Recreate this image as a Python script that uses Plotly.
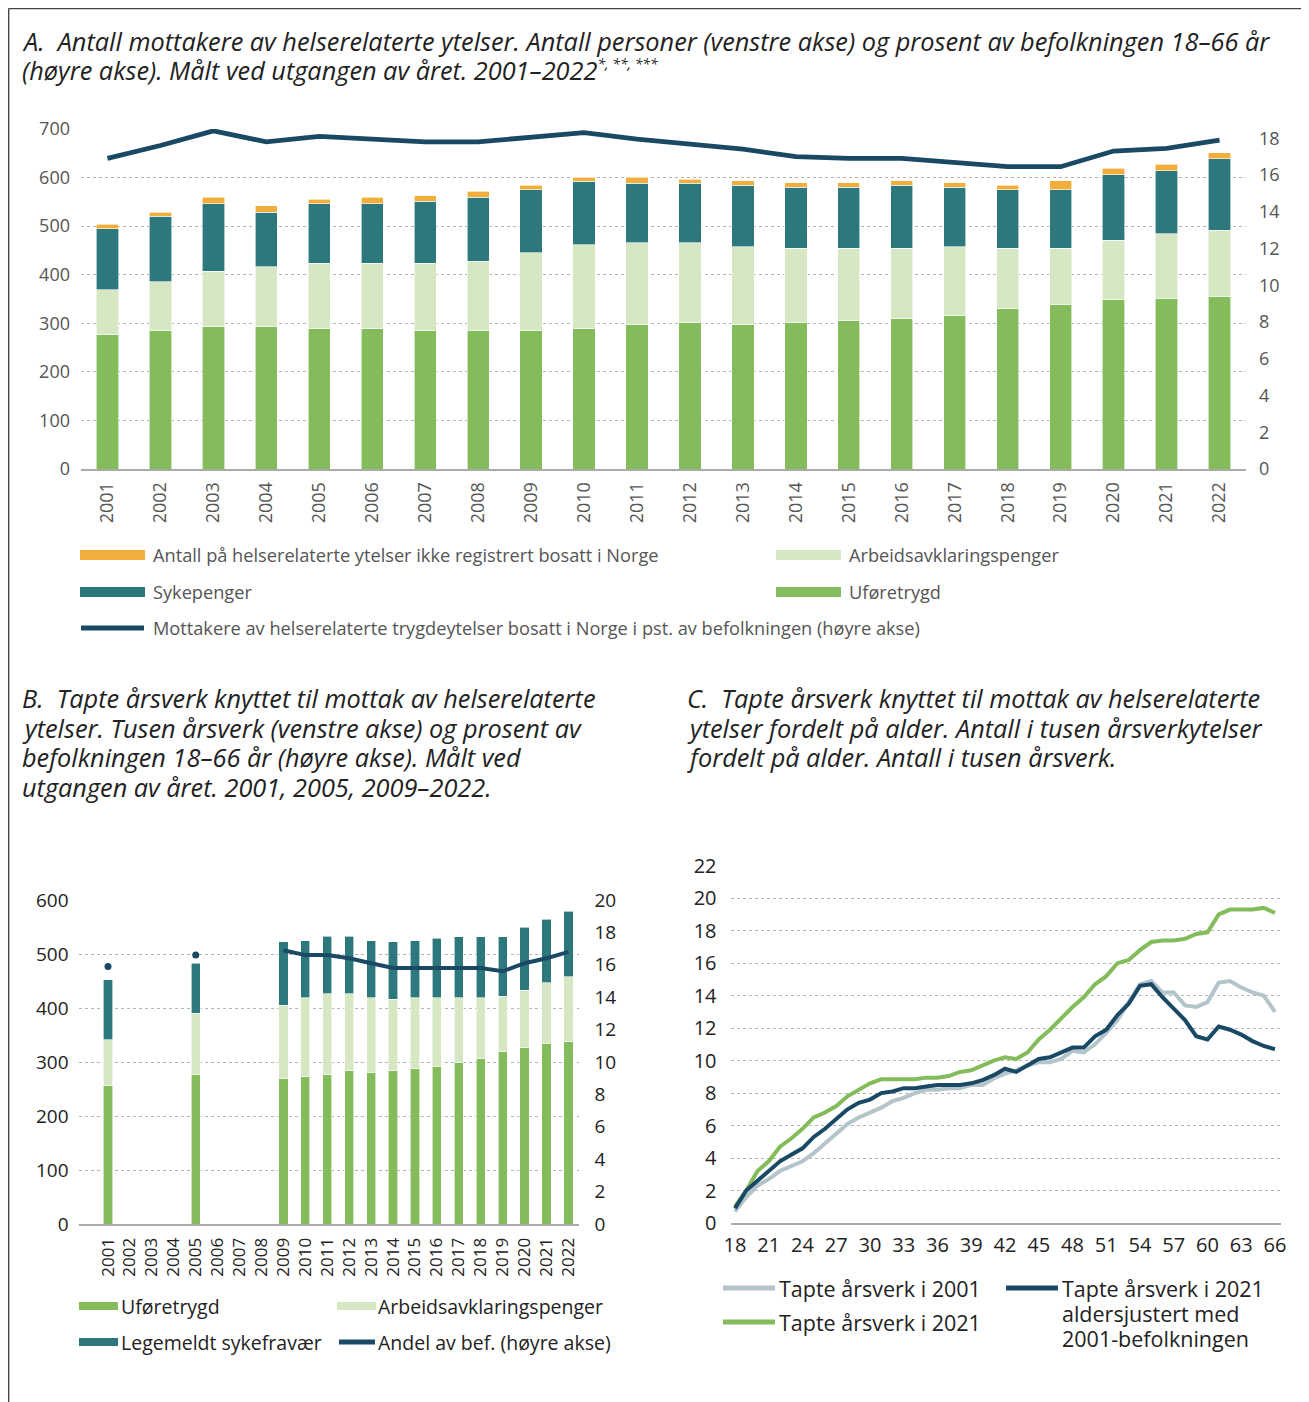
import plotly.graph_objects as go

# The page body adds an 8px margin; the figure is sized/positioned so that the
# screenshot coordinates match the reference.
OFF = 8
W, H = 1309 - OFF, 1402 - OFF

# ---------------- Panel A data ----------------
years_a = [str(y) for y in range(2001, 2023)]
ufore_a = [276, 285, 293, 293, 289, 289, 285, 285, 285, 289, 297, 301, 297, 301, 305, 309, 317, 330, 339, 348, 352, 356]
aap_a = [93, 101, 114, 123, 135, 135, 139, 143, 160, 173, 169, 165, 161, 153, 149, 145, 141, 124, 115, 123, 132, 136]
syk_a = [126, 134, 139, 113, 122, 122, 127, 131, 130, 130, 122, 122, 126, 126, 126, 130, 122, 121, 121, 135, 130, 147]
ikke_bosatt_a = [9, 9, 13, 13, 9, 13, 12, 13, 9, 9, 13, 9, 9, 9, 9, 9, 9, 9, 18, 13, 13, 12]
andel_a = [16.9, 17.6, 18.4, 17.8, 18.1, 17.95, 17.8, 17.8, 18.05, 18.3, 17.95, 17.7, 17.4, 17.0, 16.9, 16.9, 16.7, 16.45, 16.45, 17.3, 17.45, 17.9]

# ---------------- Panel B data ----------------
years_b = [str(y) for y in range(2001, 2023)]
ufore_b = [256, None, None, None, 277, None, None, None, 270, 273, 277, 284, 281, 284, 288, 291, 299, 306, 319, 327, 335, 338]
aap_b = [85, None, None, None, 113, None, None, None, 135, 146, 149, 142, 138, 132, 131, 128, 120, 113, 103, 106, 112, 120]
syk_b = [111, None, None, None, 93, None, None, None, 118, 106, 107, 107, 106, 107, 106, 110, 113, 113, 110, 117, 117, 121]
andel_b_line_years = [str(y) for y in range(2009, 2023)]
andel_b_line = [16.9, 16.6, 16.6, 16.4, 16.1, 15.8, 15.8, 15.8, 15.8, 15.8, 15.6, 16.1, 16.4, 16.8]
andel_b_dot_years = ["2001", "2005"]
andel_b_dot = [15.9, 16.6]

# ---------------- Panel C data ----------------
ages = list(range(18, 67))
tapte_2001 = [0.7, 1.6, 2.3, 2.7, 3.2, 3.5, 3.8, 4.3, 4.9, 5.5, 6.1, 6.5, 6.8, 7.1, 7.5, 7.7, 8.0, 8.2, 8.2, 8.3,
              8.3, 8.5, 8.5, 8.9, 9.2, 9.4, 9.7, 9.9, 9.9, 10.1, 10.6, 10.5, 11.0, 11.7, 12.5, 13.6, 14.7, 14.9,
              14.2, 14.2, 13.4, 13.3, 13.6, 14.8, 14.9, 14.5, 14.2, 14.0, 13.0]
tapte_2021 = [1.0, 2.0, 3.2, 3.8, 4.7, 5.2, 5.8, 6.5, 6.8, 7.2, 7.8, 8.2, 8.6, 8.85, 8.85, 8.85, 8.85, 8.95, 8.95,
              9.05, 9.3, 9.4, 9.7, 10.0, 10.2, 10.1, 10.5, 11.3, 11.9, 12.6, 13.3, 13.9, 14.7, 15.2, 16.0, 16.2,
              16.8, 17.3, 17.4, 17.4, 17.5, 17.8, 17.9, 19.0, 19.3, 19.3, 19.3, 19.4, 19.1]
tapte_2021_just = [0.9, 2.0, 2.6, 3.2, 3.8, 4.2, 4.6, 5.3, 5.8, 6.4, 7.0, 7.4, 7.6, 8.0, 8.1, 8.3, 8.3, 8.4, 8.5,
                   8.5, 8.5, 8.6, 8.8, 9.1, 9.5, 9.3, 9.7, 10.1, 10.2, 10.5, 10.8, 10.8, 11.5, 11.9, 12.8, 13.5,
                   14.6, 14.7, 13.9, 13.2, 12.5, 11.5, 11.3, 12.1, 11.9, 11.6, 11.2, 10.9, 10.7]

# ---------------- Styles ----------------
C_UFORE = "#84BC5C"
C_AAP = "#D5E7C3"
C_SYK = "#2D787D"
C_IKKE = "#F2AE3D"
C_NAVY = "#1A4966"
C_GREY = "#B3C4CA"
FONT = "Open Sans"
GRID = "#B5B5B5"


def px_x(x):
    return (x - OFF) / W


def px_y(y):
    return 1 - (y - OFF) / H


fig = go.Figure()

# Panel A
bar_line = dict(color="white", width=0.6)
for name, vals, col in [("Uføretrygd", ufore_a, C_UFORE), ("Arbeidsavklaringspenger", aap_a, C_AAP),
                        ("Sykepenger", syk_a, C_SYK),
                        ("Antall på helserelaterte ytelser ikke registrert bosatt i Norge", ikke_bosatt_a, C_IKKE)]:
    fig.add_trace(go.Bar(x=years_a, y=vals, name=name, marker=dict(color=col, line=bar_line),
                         xaxis="x", yaxis="y", showlegend=False))
fig.add_trace(go.Scatter(x=years_a, y=andel_a, mode="lines", line=dict(color=C_NAVY, width=4.8),
                         xaxis="x", yaxis="y2", showlegend=False))

# Panel B
for name, vals, col in [("Uføretrygd", ufore_b, C_UFORE), ("Arbeidsavklaringspenger", aap_b, C_AAP),
                        ("Legemeldt sykefravær", syk_b, C_SYK)]:
    fig.add_trace(go.Bar(x=years_b, y=vals, name=name, marker=dict(color=col, line=bar_line),
                         xaxis="x3", yaxis="y3", showlegend=False))
fig.add_trace(go.Scatter(x=andel_b_line_years, y=andel_b_line, mode="lines", line=dict(color=C_NAVY, width=4),
                         xaxis="x3", yaxis="y4", showlegend=False))
fig.add_trace(go.Scatter(x=andel_b_dot_years, y=andel_b_dot, mode="markers", marker=dict(color=C_NAVY, size=7),
                         xaxis="x3", yaxis="y4", showlegend=False))

# Panel C
for vals, col in [(tapte_2001, C_GREY), (tapte_2021, C_UFORE), (tapte_2021_just, C_NAVY)]:
    fig.add_trace(go.Scatter(x=ages, y=vals, mode="lines", line=dict(color=col, width=4),
                             xaxis="x5", yaxis="y5", showlegend=False))

tickA = dict(family=FONT, size=18, color="#555555")
tickBC = dict(family=FONT, size=19, color="#222222")
tickC = dict(family=FONT, size=20, color="#222222")

fig.update_layout(
    template="none",
    width=W, height=H, autosize=False,
    margin=dict(l=0, r=0, t=0, b=0, pad=0),
    paper_bgcolor="white", plot_bgcolor="white",
    barmode="stack", bargap=0.58,
    showlegend=False,
    font=dict(family=FONT, color="#222222"),
    # Panel A axes
    xaxis=dict(domain=[px_x(81), px_x(1246)], anchor="y", type="category", tickangle=-90,
               tickfont=tickA, showgrid=False, showline=True, linecolor="#AAAAAA", linewidth=2,
               ticks="", ticklabelstandoff=4, automargin=False),
    yaxis=dict(domain=[px_y(469), px_y(129)], anchor="x", range=[0, 700], dtick=100,
               tickfont=tickA, showgrid=True, gridcolor=GRID, griddash="dot", gridwidth=1,
               zeroline=False, showline=False, ticks="", ticklabelstandoff=10, automargin=False),
    yaxis2=dict(overlaying="y", side="right", anchor="x", range=[0, 18.5], tickvals=list(range(0, 19, 2)),
                tickfont=tickA, showgrid=False, zeroline=False, showline=False, ticks="",
                ticklabelstandoff=12, automargin=False),
    # Panel B axes
    xaxis3=dict(domain=[px_x(78.6), px_x(579.4)], anchor="y3", type="category",
                categoryorder="array", categoryarray=years_b, tickangle=-90,
                tickfont=dict(family=FONT, size=17, color="#222222"), showgrid=False, showline=True,
                linecolor="#AAAAAA", linewidth=2, ticks="", ticklabelstandoff=5, automargin=False),
    yaxis3=dict(domain=[px_y(1224), px_y(900)], anchor="x3", range=[0, 600], dtick=100,
                tickfont=tickBC, showgrid=True, gridcolor=GRID, griddash="dot", gridwidth=1,
                zeroline=False, showline=False, ticks="", ticklabelstandoff=9, automargin=False),
    yaxis4=dict(overlaying="y3", side="right", anchor="x3", range=[0, 20], dtick=2,
                tickfont=tickBC, showgrid=False, zeroline=False, showline=False, ticks="",
                ticklabelstandoff=14, automargin=False),
    # Panel C axes
    xaxis5=dict(domain=[px_x(730.5), px_x(1280.6)], anchor="y5", range=[17.6, 66.5],
                tickvals=list(range(18, 67, 3)), tickfont=tickC, showgrid=False, showline=True,
                linecolor="#AAAAAA", linewidth=2, ticks="", zeroline=False, ticklabelstandoff=3,
                automargin=False),
    yaxis5=dict(domain=[px_y(1223), px_y(865.7)], anchor="x5", range=[0, 22], dtick=2,
                tickfont=tickC, showgrid=True, gridcolor=GRID, griddash="dot", gridwidth=1,
                zeroline=False, showline=False, ticks="", ticklabelstandoff=13, automargin=False),
)

shapes = []
annotations = []

# frame (left, top, right)
for x0, y0, x1, y1 in [(8.6, 8.6, 8.6, 1402), (8.6, 8.6, 1306, 8.6), (1306, 8.6, 1306, 1402)]:
    shapes.append(dict(type="line", xref="paper", yref="paper", x0=px_x(x0), x1=px_x(x1),
                       y0=px_y(y0), y1=px_y(y1), line=dict(color="#444444", width=1.5)))


def label(x, yc, text, size, color, style="normal"):
    annotations.append(dict(xref="paper", yref="paper", x=px_x(x), y=px_y(yc), xanchor="left", yanchor="middle",
                            align="left", showarrow=False, text=text,
                            font=dict(family=FONT, size=size, color=color, style=style)))


# titles (one annotation per line)
TS = 25.3
title_a = ["A.  Antall mottakere av helserelaterte ytelser. Antall personer (venstre akse) og prosent av befolkningen 18–66 år",
           "(høyre akse). Målt ved utgangen av året. 2001–2022<sup><span style='font-size:14px'>*, **, ***</span></sup>"]
for i, t in enumerate(title_a):
    label(20, 41 + i * 29.5, t, TS, "#222222", "italic")
title_b = ["B.  Tapte årsverk knyttet til mottak av helserelaterte",
           "ytelser. Tusen årsverk (venstre akse) og prosent av",
           "befolkningen 18–66 år (høyre akse). Målt ved",
           "utgangen av året. 2001, 2005, 2009–2022."]
for i, t in enumerate(title_b):
    label(20, 698 + i * 29.5, t, TS, "#222222", "italic")
title_c = ["C.  Tapte årsverk knyttet til mottak av helserelaterte",
           "ytelser fordelt på alder. Antall i tusen årsverkytelser",
           "fordelt på alder. Antall i tusen årsverk."]
for i, t in enumerate(title_c):
    label(685, 698 + i * 29.5, t, TS, "#222222", "italic")


def swatch(x0, x1, yc, color, h):
    shapes.append(dict(type="rect", xref="paper", yref="paper", x0=px_x(x0), x1=px_x(x1),
                       y0=px_y(yc + h / 2), y1=px_y(yc - h / 2), fillcolor=color, line=dict(width=0)))


def lineswatch(x0, x1, yc, color, w):
    shapes.append(dict(type="line", xref="paper", yref="paper", x0=px_x(x0), x1=px_x(x1),
                       y0=px_y(yc), y1=px_y(yc), line=dict(color=color, width=w)))


# Panel A legend
la_col = "#555555"
LA = 18.2
swatch(80, 145, 555, C_IKKE, 10)
label(151, 555, "Antall på helserelaterte ytelser ikke registrert bosatt i Norge", LA, la_col)
swatch(776, 841, 555, C_AAP, 10)
label(847, 555, "Arbeidsavklaringspenger", LA, la_col)
swatch(80, 145, 592, C_SYK, 10)
label(151, 592, "Sykepenger", LA, la_col)
swatch(776, 841, 592, C_UFORE, 10)
label(847, 592, "Uføretrygd", LA, la_col)
lineswatch(81, 144, 628, C_NAVY, 5)
label(151, 628, "Mottakere av helserelaterte trygdeytelser bosatt i Norge i pst. av befolkningen (høyre akse)", LA, la_col)

# Panel B legend
LB = 19.5
swatch(79, 118, 1306, C_UFORE, 8)
label(119, 1306, "Uføretrygd", LB, "#222222")
swatch(337, 376, 1306, C_AAP, 8)
label(376, 1306, "Arbeidsavklaringspenger", LB, "#222222")
swatch(79, 118, 1342, C_SYK, 8)
label(119, 1342, "Legemeldt sykefravær", LB, "#222222")
lineswatch(339, 375, 1342, C_NAVY, 5)
label(376, 1342, "Andel av bef. (høyre akse)", LB, "#222222")

# Panel C legend
LC = 21.5
lineswatch(723, 775, 1288, C_GREY, 5)
label(777, 1288, "Tapte årsverk i 2001", LC, "#222222")
lineswatch(723, 775, 1322, C_UFORE, 5)
label(777, 1322, "Tapte årsverk i 2021", LC, "#222222")
lineswatch(1006, 1058, 1288, C_NAVY, 5)
for i, t in enumerate(["Tapte årsverk i 2021", "aldersjustert med", "2001-befolkningen"]):
    label(1060, 1288 + i * 25, t, LC, "#222222")

fig.update_layout(shapes=shapes, annotations=annotations)
fig.write_html("out.html")
